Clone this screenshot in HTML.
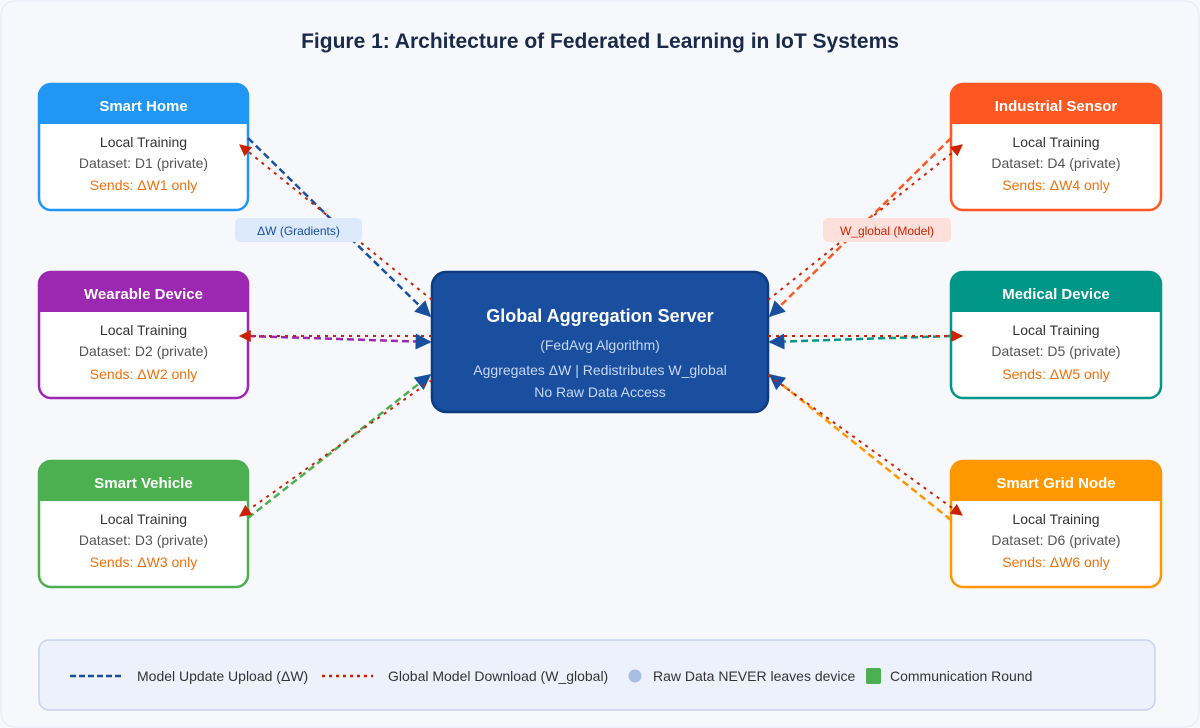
<!DOCTYPE html>
<html><head><meta charset="utf-8"><style>
html,body{margin:0;padding:0;background:#f7f8fc;}
svg{display:block;font-family:"Liberation Sans",sans-serif;}
</style></head><body>
<svg width="1200" height="728" viewBox="0 0 1200 728" xmlns="http://www.w3.org/2000/svg">
<defs>
<marker id="ab" viewBox="0 0 10 10" refX="9" refY="5" markerWidth="16" markerHeight="16" markerUnits="userSpaceOnUse" orient="auto"><path d="M0,0 L10,5 L0,10 z" fill="#1a4fa0"/></marker>
<marker id="ar" viewBox="0 0 10 10" refX="9" refY="5" markerWidth="12" markerHeight="12" markerUnits="userSpaceOnUse" orient="auto"><path d="M0,0 L10,5 L0,10 z" fill="#cc2200"/></marker>
</defs>
<rect x="1" y="1" width="1198" height="726" rx="14" fill="#f7f8fc" stroke="#e6e9f2"/>
<text x="600" y="48" text-anchor="middle" font-size="21" font-weight="bold" fill="#1a2a4a">Figure 1: Architecture of Federated Learning in IoT Systems</text>

<!-- devices -->
<g font-size="14">
<g>
<rect x="39" y="84" width="209" height="126" rx="12" fill="#fff" stroke="#2196f3" stroke-width="2.5"/>
<path d="M39,124 V96 a12,12 0 0 1 12,-12 H236 a12,12 0 0 1 12,12 V124 z" fill="#2196f3"/>
<text x="143.5" y="111" text-anchor="middle" font-size="15" font-weight="bold" fill="#fff">Smart Home</text>
<text x="143.5" y="147" text-anchor="middle" fill="#333">Local Training</text>
<text x="143.5" y="168" text-anchor="middle" fill="#555">Dataset: D1 (private)</text>
<text x="143.5" y="190" text-anchor="middle" fill="#f0700a">Sends: ΔW1 only</text>
</g>
<g>
<rect x="39" y="272" width="209" height="126" rx="12" fill="#fff" stroke="#9c27b0" stroke-width="2.5"/>
<path d="M39,312 V284 a12,12 0 0 1 12,-12 H236 a12,12 0 0 1 12,12 V312 z" fill="#9c27b0"/>
<text x="143.5" y="299" text-anchor="middle" font-size="15" font-weight="bold" fill="#fff">Wearable Device</text>
<text x="143.5" y="335" text-anchor="middle" fill="#333">Local Training</text>
<text x="143.5" y="356" text-anchor="middle" fill="#555">Dataset: D2 (private)</text>
<text x="143.5" y="379" text-anchor="middle" fill="#f0700a">Sends: ΔW2 only</text>
</g>
<g>
<rect x="39" y="461" width="209" height="126" rx="12" fill="#fff" stroke="#4caf50" stroke-width="2.5"/>
<path d="M39,501 V473 a12,12 0 0 1 12,-12 H236 a12,12 0 0 1 12,12 V501 z" fill="#4caf50"/>
<text x="143.5" y="488" text-anchor="middle" font-size="15" font-weight="bold" fill="#fff">Smart Vehicle</text>
<text x="143.5" y="524" text-anchor="middle" fill="#333">Local Training</text>
<text x="143.5" y="545" text-anchor="middle" fill="#555">Dataset: D3 (private)</text>
<text x="143.5" y="567" text-anchor="middle" fill="#f0700a">Sends: ΔW3 only</text>
</g>
<g>
<rect x="951" y="84" width="210" height="126" rx="12" fill="#fff" stroke="#ff5722" stroke-width="2.5"/>
<path d="M951,124 V96 a12,12 0 0 1 12,-12 H1149 a12,12 0 0 1 12,12 V124 z" fill="#ff5722"/>
<text x="1056" y="111" text-anchor="middle" font-size="15" font-weight="bold" fill="#fff">Industrial Sensor</text>
<text x="1056" y="147" text-anchor="middle" fill="#333">Local Training</text>
<text x="1056" y="168" text-anchor="middle" fill="#555">Dataset: D4 (private)</text>
<text x="1056" y="190" text-anchor="middle" fill="#f0700a">Sends: ΔW4 only</text>
</g>
<g>
<rect x="951" y="272" width="210" height="126" rx="12" fill="#fff" stroke="#009688" stroke-width="2.5"/>
<path d="M951,312 V284 a12,12 0 0 1 12,-12 H1149 a12,12 0 0 1 12,12 V312 z" fill="#009688"/>
<text x="1056" y="299" text-anchor="middle" font-size="15" font-weight="bold" fill="#fff">Medical Device</text>
<text x="1056" y="335" text-anchor="middle" fill="#333">Local Training</text>
<text x="1056" y="356" text-anchor="middle" fill="#555">Dataset: D5 (private)</text>
<text x="1056" y="379" text-anchor="middle" fill="#f0700a">Sends: ΔW5 only</text>
</g>
<g>
<rect x="951" y="461" width="210" height="126" rx="12" fill="#fff" stroke="#ff9800" stroke-width="2.5"/>
<path d="M951,501 V473 a12,12 0 0 1 12,-12 H1149 a12,12 0 0 1 12,12 V501 z" fill="#ff9800"/>
<text x="1056" y="488" text-anchor="middle" font-size="15" font-weight="bold" fill="#fff">Smart Grid Node</text>
<text x="1056" y="524" text-anchor="middle" fill="#333">Local Training</text>
<text x="1056" y="545" text-anchor="middle" fill="#555">Dataset: D6 (private)</text>
<text x="1056" y="567" text-anchor="middle" fill="#f0700a">Sends: ΔW6 only</text>
</g>
</g>

<!-- server -->
<rect x="432" y="272" width="336" height="140" rx="14" fill="#1a4fa0" stroke="#0d3b80" stroke-width="2.5"/>
<text x="600" y="322" text-anchor="middle" font-size="18" font-weight="bold" fill="#fff">Global Aggregation Server</text>
<text x="600" y="350" text-anchor="middle" font-size="14" fill="#c6d8f5">(FedAvg Algorithm)</text>
<text x="600" y="375" text-anchor="middle" font-size="14" fill="#c6d8f5">Aggregates ΔW | Redistributes W_global</text>
<text x="600" y="397" text-anchor="middle" font-size="14" fill="#c6d8f5">No Raw Data Access</text>

<!-- connectors -->
<g fill="none" stroke-width="2.5">
<path d="M248,138 L430,316" stroke="#1a4fa0" stroke-dasharray="7,4" marker-end="url(#ab)"/>
<path d="M432,300 L240,145" stroke="#cc2200" stroke-width="2" stroke-dasharray="3,5" marker-end="url(#ar)"/>
<path d="M248,336 L430,342" stroke="#9c27b0" stroke-dasharray="7,4" marker-end="url(#ab)"/>
<path d="M432,336 L240,336" stroke="#cc2200" stroke-width="2" stroke-dasharray="3,5" marker-end="url(#ar)"/>
<path d="M248,518 L430,375" stroke="#4caf50" stroke-dasharray="7,4" marker-end="url(#ab)"/>
<path d="M432,380 L240,516" stroke="#cc2200" stroke-width="2" stroke-dasharray="3,5" marker-end="url(#ar)"/>
<path d="M951,138 L770,316" stroke="#ff5722" stroke-dasharray="7,4" marker-end="url(#ab)"/>
<path d="M768,300 L962,145" stroke="#cc2200" stroke-width="2" stroke-dasharray="3,5" marker-end="url(#ar)"/>
<path d="M951,336 L770,342" stroke="#009688" stroke-dasharray="7,4" marker-end="url(#ab)"/>
<path d="M768,336 L962,336" stroke="#cc2200" stroke-width="2" stroke-dasharray="3,5" marker-end="url(#ar)"/>
<path d="M951,520 L770,375" stroke="#ff9800" stroke-dasharray="7,4" marker-end="url(#ab)"/>
<path d="M768,375 L962,515" stroke="#cc2200" stroke-width="2" stroke-dasharray="3,5" marker-end="url(#ar)"/>
</g>

<rect x="235" y="218" width="127" height="24" rx="5" fill="#dceafc"/>
<text x="298.5" y="235" text-anchor="middle" font-size="12" fill="#1a4fa0">ΔW (Gradients)</text>
<rect x="823" y="218" width="128" height="24" rx="5" fill="#fde0dc"/>
<text x="887" y="235" text-anchor="middle" font-size="12" fill="#cc2200">W_global (Model)</text>

<!-- legend -->
<rect x="39" y="640" width="1116" height="70" rx="10" fill="#edf1fc" stroke="#c9d3ee" stroke-width="1.5"/>
<line x1="70" y1="676" x2="122" y2="676" stroke="#1a4fa0" stroke-width="2.5" stroke-dasharray="6,3"/>
<text x="137" y="681" font-size="14" fill="#333">Model Update Upload (ΔW)</text>
<line x1="322" y1="676" x2="373" y2="676" stroke="#cc2200" stroke-width="2.5" stroke-dasharray="3,4"/>
<text x="388" y="681" font-size="14" fill="#333">Global Model Download (W_global)</text>
<circle cx="635" cy="676" r="6.5" fill="#aabde6"/>
<text x="653" y="681" font-size="14" fill="#333">Raw Data NEVER leaves device</text>
<rect x="866" y="668" width="15" height="16" rx="2" fill="#4caf50"/>
<text x="890" y="681" font-size="14" fill="#333">Communication Round</text>
</svg>
</body></html>
